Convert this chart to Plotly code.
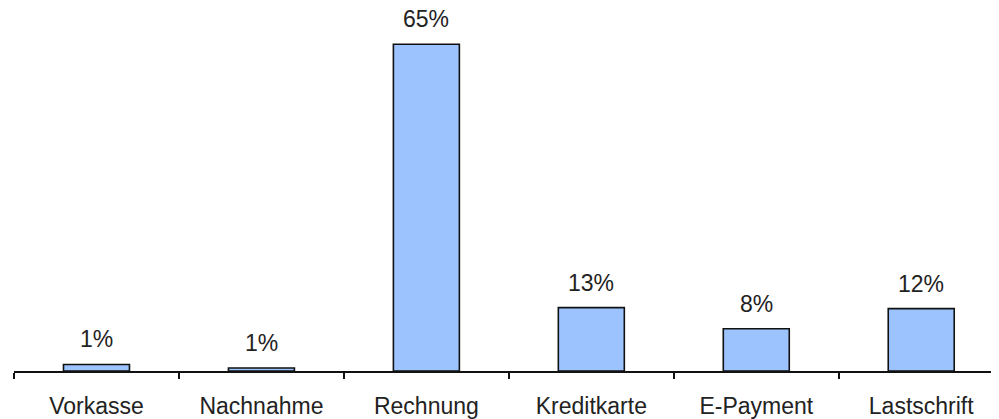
import plotly.graph_objects as go

categories = ["Vorkasse", "Nachnahme", "Rechnung", "Kreditkarte", "E-Payment", "Lastschrift"]
values = [1.3, 0.6, 65, 12.6, 8.4, 12.4]
labels = ["1%", "1%", "65%", "13%", "8%", "12%"]

fig = go.Figure()
fig.add_trace(go.Bar(
    x=categories, y=values, width=0.4,
    marker=dict(color="#9DC3FF", line=dict(color="#111111", width=1.6)),
    hoverinfo="skip",
))
for c, v, t in zip(categories, values, labels):
    fig.add_annotation(x=c, y=v, text=t, showarrow=False, yanchor="bottom", yshift=10,
                       font=dict(family="Liberation Sans, Arial", size=23, color="#222222"))

fig.update_layout(
    width=999, height=419,
    margin=dict(l=6, r=0, t=0, b=56),
    paper_bgcolor="white", plot_bgcolor="white",
    showlegend=False,
    font=dict(family="Liberation Sans, Arial", size=23, color="#222222"),
)
fig.update_xaxes(range=[-0.5, 5.52], showline=True, linecolor="#111111", linewidth=1.6,
                 ticks="outside", tickson="boundaries", ticklen=6, tickwidth=1.6, tickcolor="#111111",
                 showgrid=False, ticklabelstandoff=14, fixedrange=True)
fig.update_yaxes(range=[0, 72.2], visible=False, showgrid=False, zeroline=False, fixedrange=True)

fig.write_html("out.html", config={"displayModeBar": False})
